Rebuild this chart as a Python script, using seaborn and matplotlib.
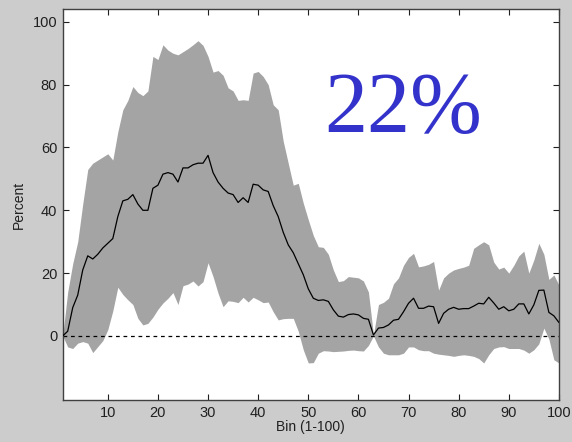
import numpy as np
import pandas as pd
import matplotlib
matplotlib.use("Agg")
import matplotlib.pyplot as plt
import seaborn as sns

bins = list(range(1, 101))

mean_pct = [0, 1.5, 9, 13, 21, 25.5, 24.5, 26, 28, 29.5,
            31, 38, 43, 43.5, 45, 42, 40, 40, 47, 48,
            51.5, 52, 51.5, 49, 53.5, 53.5, 54.5, 55, 55, 57.5,
            52, 49, 47, 45.5, 45, 42.5, 44, 42.5, 48.3, 48,
            46.5, 46, 41.5, 38, 33, 29, 26.5, 23, 19.5, 15,
            12, 11.3, 11.5, 11, 8.3, 6.3, 6, 6.8, 7, 6.7,
            5.6, 5.3, 0.3, 2.5, 2.7, 3.5, 5, 5.3, 7.7, 10.4,
            12, 8.8, 8.8, 9.5, 9.3, 4, 7.2, 8.5, 9.1, 8.5,
            8.7, 8.7, 9.5, 10.4, 10.2, 12.3, 10.5, 8.5, 9.3, 8,
            8.5, 10.2, 10.2, 7, 9.9, 14.5, 14.6, 7.5, 6.4, 4.3]

upper_pct = [0, 14, 23, 30, 42, 53, 55, 56, 57, 58,
             56, 65, 72, 75, 79.4, 77.5, 76.5, 78, 89, 88,
             92.7, 91, 90, 89.5, 90.5, 91.5, 92.7, 94, 92.5, 89,
             84, 84.5, 83, 79, 78, 75, 75.2, 75, 83.7, 84.2,
             82.6, 80, 73.6, 72, 62, 55, 48, 48.6, 42.3, 37,
             32, 28.4, 28.2, 26, 21, 17.3, 17.6, 18.9, 18.7, 18.5,
             17.5, 14, 0.3, 10, 10.7, 12, 16.6, 18.5, 22.5, 25,
             26.3, 22, 22.3, 22.8, 23.7, 14.6, 18.5, 20, 21, 21.5,
             21.9, 22.5, 27.9, 29, 30, 29, 23.5, 21.3, 21.9, 20,
             22.5, 25.5, 27, 20, 24.2, 29.5, 26, 18, 19.4, 16.2]

lower_pct = [0, -3.5, -4, -2.3, -1.8, -2.3, -5.3, -3.4, -1.5, 2,
             8, 15.5, 13.2, 11.5, 10, 5.6, 3.5, 4, 6, 8.5,
             10.5, 12, 13.8, 10, 16, 16.5, 17.5, 15.9, 17.3, 23.3,
             18.9, 13.6, 9.3, 11.2, 11, 10.6, 12.3, 10.8, 12.3, 11.5,
             10.6, 10.8, 7.7, 5.1, 5.5, 5.6, 5.6, 1.5, -4.4, -8.6,
             -8.5, -5.5, -4.7, -4.8, -5, -4.9, -4.8, -4.6, -4.5, -4.7,
             -4.8, -3, 0, -3.5, -5.5, -6, -6, -6, -5.5, -3.5,
             -3.5, -4.4, -4.7, -4.7, -5.5, -5.8, -6, -6.2, -6.5, -6.2,
             -6, -6.2, -6.5, -7.2, -8.6, -6, -4, -3.5, -3.4, -4,
             -4, -4, -4.5, -5.5, -4.4, -2.5, 2.5, -1, -7.6, -8.6]

x_ticks = [10, 20, 30, 40, 50, 60, 70, 80, 90, 100]
y_ticks = [0, 20, 40, 60, 80, 100]
annotation = "22%"

df = pd.DataFrame({"bin": bins, "mean": mean_pct,
                   "upper": upper_pct, "lower": lower_pct})

sns.set_theme(style="ticks")
plt.rcParams["font.family"] = ["Liberation Sans", "DejaVu Sans"]

fig = plt.figure(figsize=(5.72, 4.42), dpi=100, facecolor="#cccccc")
ax = fig.add_axes([0.1096, 0.095, 0.8675, 0.884])
ax.set_facecolor("white")

ax.fill_between(df["bin"], df["lower"], df["upper"],
                color="#a4a4a4", linewidth=0, zorder=1)
ax.axhline(0, color="black", linestyle=(0, (3, 3)), linewidth=0.9, zorder=2)
sns.lineplot(data=df, x="bin", y="mean", color="black", linewidth=0.9,
             ax=ax, zorder=3)

ax.text(68.9, 65, annotation, ha="center", va="baseline",
        fontsize=62, color="#3333cc", family=["Liberation Serif", "DejaVu Serif"])

ax.set_xlim(1, 100)
ax.set_ylim(-20.4, 104)
ax.set_xticks(x_ticks)
ax.set_yticks(y_ticks)
ax.tick_params(direction="in", top=True, right=True, length=4, width=0.8,
               labelsize=10.5, colors="#202020", pad=4)
ax.set_xlabel("Bin (1-100)", fontsize=10, color="#202020", labelpad=0)
ax.set_ylabel("Percent", fontsize=10, color="#202020", labelpad=5)
for s in ax.spines.values():
    s.set_color("#404040")
    s.set_linewidth(1.0)

fig.savefig("out.png", dpi=100, facecolor=fig.get_facecolor())
